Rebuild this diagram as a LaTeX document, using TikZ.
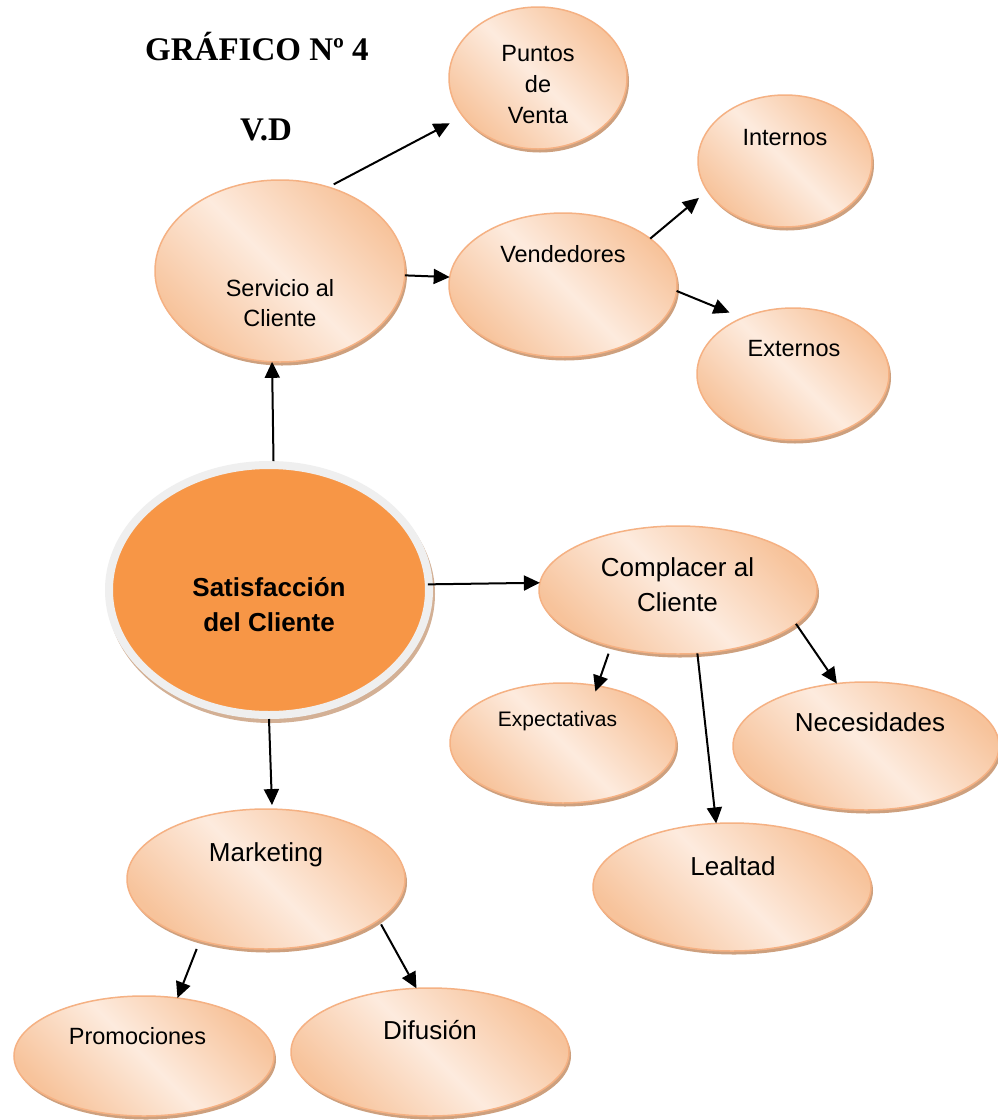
\documentclass[tikz,border=0pt]{standalone}
\usepackage{fontspec}
\setmainfont{Liberation Sans}
\newfontfamily\titlefont{Liberation Serif}
\usetikzlibrary{shapes.geometric,arrows.meta,shadows}

\definecolor{peachdark}{HTML}{F7C39B}
\definecolor{peachlight}{HTML}{FDEBDE}
\definecolor{peachedge}{HTML}{F5B183}
\definecolor{peachshadow}{HTML}{CDA07E}
\definecolor{coreorange}{HTML}{F79646}
\definecolor{corering}{HTML}{EFEFEF}
\definecolor{coreshadow}{HTML}{D3B095}

\tikzset{
  bubble/.style={ellipse, inner sep=0pt, outer sep=0pt, draw=peachedge, line width=1.5pt,
    top color=peachdark, bottom color=peachdark, middle color=peachlight, shading angle=-45,
    general shadow={fill=peachshadow, shadow xshift=2pt, shadow yshift=-3.5pt}},
  core/.style={ellipse, inner sep=0pt, fill=coreorange, draw=corering, line width=8pt,
    general shadow={fill=coreshadow, draw=coreshadow, line width=8pt, shadow xshift=2pt, shadow yshift=-4pt}},
  txt/.style={inner sep=0pt, anchor=base, align=center},
  big/.style={font=\fontsize{26}{35}\selectfont},
  mid/.style={font=\fontsize{23.5}{31}\selectfont},
  link/.style={line width=2pt, -{Triangle[length=16pt,width=15pt]}},
}

\begin{document}
\begin{tikzpicture}[x=1pt, y=-1pt]
\useasboundingbox[fill=white] (0,0) rectangle (998,1120);

% titles
\node[inner sep=0pt, anchor=base west, font=\titlefont\bfseries\fontsize{33}{40}\selectfont] (title) at (145,60) {GRÁFICO Nº 4};
\node[inner sep=0pt, anchor=base, font=\titlefont\bfseries\fontsize{33}{40}\selectfont] (vd) at (266,140) {V.D};

% bubbles
\node[bubble, minimum width=178pt, minimum height=142pt] (pv)   at (538,78)   {};
\node[bubble, minimum width=174pt, minimum height=132pt] (int)  at (785,161)  {};
\node[bubble, minimum width=250pt, minimum height=182pt] (serv) at (280,271)  {};
\node[bubble, minimum width=228pt, minimum height=144pt] (vend) at (563,285)  {};
\node[bubble, minimum width=192pt, minimum height=132pt] (ext)  at (793,374)  {};
\node[core,   minimum width=320pt, minimum height=250pt] (sat)  at (269,590)  {};
\node[bubble, minimum width=278pt, minimum height=128pt] (comp) at (678,590)  {};
\node[bubble, minimum width=226pt, minimum height=120pt] (exp)  at (563,743)  {};
\node[bubble, minimum width=266pt, minimum height=128pt] (nec)  at (866,746)  {};
\node[bubble, minimum width=278pt, minimum height=128pt] (leal) at (732,887)  {};
\node[bubble, minimum width=278pt, minimum height=140pt] (mkt)  at (266,879)  {};
\node[bubble, minimum width=260pt, minimum height=120pt] (prom) at (144,1056) {};
\node[bubble, minimum width=278pt, minimum height=128pt] (dif)  at (430,1052) {};

% labels (base = baseline of the last line)
\node[txt, mid] (pvt)   at (538,123)   {Puntos\\de\\Venta};
\node[txt, mid] (intt)  at (785,145)   {Internos};
\node[txt, font=\fontsize{23.5}{30}\selectfont] (servt) at (280,326.5) {Servicio al\\Cliente};
\node[txt, mid] (vendt) at (563,262.5) {Vendedores};
\node[txt, mid] (extt)  at (794,356.5) {Externos};
\node[txt, font=\fontsize{26}{35}\selectfont\bfseries] (satt) at (269,631.5) {Satisfacción\\del Cliente};
\node[txt, big] (compt) at (677.5,611.5) {Complacer al\\Cliente};
\node[txt, font=\fontsize{21}{26}\selectfont] (expt) at (557.5,726.5) {Expectativas};
\node[txt, big] (nect)  at (870,731.5) {Necesidades};
\node[txt, big] (lealt) at (733,875)   {Lealtad};
\node[txt, big] (mktt)  at (266,861.5) {Marketing};
\node[txt, font=\fontsize{23.5}{30}\selectfont] (promt) at (137.5,1044) {Promociones};
\node[txt, big] (dift)  at (430,1039)  {Difusión};

% connectors
\draw[link, shorten <=6pt, shorten >=15pt] (serv.60.5) -- (pv.207.6);
\draw[link] (serv.-2.8) -- (vend.176);
\draw[link, shorten >=11pt] (vend.28.6) -- (int.201.7);
\draw[link, shorten >=14pt] (vend.-3.1) -- (ext.132.3);
\draw[link] (sat.88.6) -- (serv.265.6);
\draw[link, shorten <=-5pt] (sat.2.5) -- (comp.177.1);
\draw[link, shorten >=4pt] (sat.270.4) -- (mkt.85.4);
\draw[link, shorten <=8pt, shorten >=-6pt] (comp.220.7) -- (exp.59.2);
\draw[link] (comp.287) -- (leal.104.7);
\draw[link] (comp.-16.5) -- (nec.115.5);
\draw[link, shorten <=9pt] (mkt.223.4) -- (prom.60.9);
\draw[link, shorten <=5pt] (mkt.-20.2) -- (dif.102.6);
\end{tikzpicture}
\end{document}
